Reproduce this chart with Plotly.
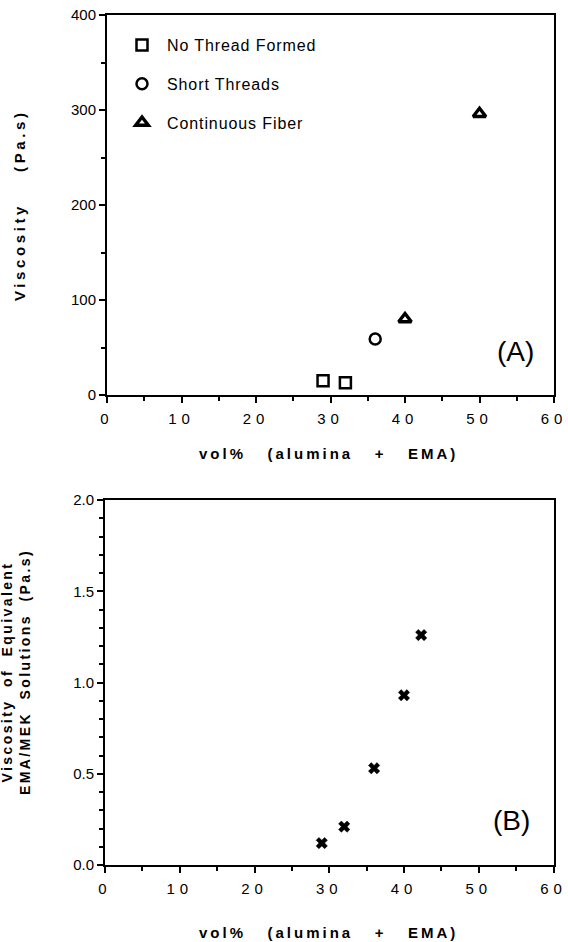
import plotly.graph_objects as go

# ---------------- data ----------------
no_thread_x = [29, 32]
no_thread_y = [15, 13]
short_x = [36]
short_y = [59]
cont_x = [40, 50]
cont_y = [80, 296]

ema_x = [29, 32, 36, 40, 42.3]
ema_y = [0.12, 0.21, 0.53, 0.93, 1.26]

x_ticks = [0, 10, 20, 30, 40, 50, 60]
ya_ticks = [0, 100, 200, 300, 400]
yb_ticks = [0.0, 0.5, 1.0, 1.5, 2.0]

W, H = 568, 942
FONT = "Liberation Sans, Arial, sans-serif"


def ls(text, sp):
    return f'<span style="letter-spacing:{sp}px">{text}</span>'


def px_x(p):
    return p / W


def px_y(p):
    return 1 - p / H


fig = go.Figure()

mk_line = dict(color="black", width=2.5)
fig.add_trace(go.Scatter(x=no_thread_x, y=no_thread_y, mode="markers",
                         name=ls("No Thread Formed", 0.9), legendgroup="a",
                         marker=dict(symbol="square-open", size=11, color="black", line=mk_line),
                         xaxis="x", yaxis="y"))
fig.add_trace(go.Scatter(x=short_x, y=short_y, mode="markers",
                         name=ls("Short Threads", 0.9), legendgroup="b",
                         marker=dict(symbol="circle-open", size=11, color="black", line=mk_line),
                         xaxis="x", yaxis="y"))
fig.add_trace(go.Scatter(x=cont_x, y=cont_y, mode="markers",
                         name=ls("Continuous Fiber", 0.9), legendgroup="c",
                         marker=dict(symbol="triangle-up-open", size=11, color="black",
                                     line=dict(color="black", width=3.4)),
                         xaxis="x", yaxis="y"))
fig.add_trace(go.Scatter(x=ema_x, y=ema_y, mode="markers", showlegend=False,
                         marker=dict(symbol="x", size=10, color="black",
                                     line=dict(color="black", width=0.5)),
                         xaxis="x2", yaxis="y2"))

tickfont = dict(family=FONT, size=15, color="black")


def xaxis(domain, anchor):
    return dict(domain=domain, anchor=anchor, range=[0, 60], automargin=False,
                tickmode="array", tickvals=x_ticks, ticktext=[ls(str(v), 5) for v in x_ticks],
                ticks="outside", ticklen=6, tickwidth=2, tickcolor="black",
                minor=dict(dtick=5, tick0=0, ticks="outside", ticklen=4, tickwidth=2, tickcolor="black"),
                showline=True, linewidth=2, linecolor="#000000", mirror=True,
                showgrid=False, zeroline=False, tickfont=tickfont, ticklabelstandoff=3,
                fixedrange=True)


def yaxis(domain, anchor, rng, vals, texts, mdtick):
    return dict(domain=domain, anchor=anchor, range=rng, automargin=False,
                tickmode="array", tickvals=vals, ticktext=texts,
                ticks="outside", ticklen=6, tickwidth=2, tickcolor="black",
                minor=dict(dtick=mdtick, ticks="outside", ticklen=4, tickwidth=2, tickcolor="black"),
                showline=True, linewidth=2, linecolor="#000000", mirror=True,
                showgrid=False, zeroline=False, tickfont=tickfont,
                fixedrange=True)


fig.update_layout(
    width=W, height=H, autosize=False,
    margin=dict(l=0, r=0, t=0, b=0, pad=0),
    paper_bgcolor="white", plot_bgcolor="white",
    font=dict(family=FONT, color="black"),
    xaxis=xaxis([px_x(107), px_x(554)], "y"),
    yaxis=yaxis([px_y(395), px_y(15)], "x", [0, 400], ya_ticks,
                [str(v) for v in ya_ticks], 50),
    xaxis2=xaxis([px_x(105), px_x(553.5)], "y2"),
    yaxis2=yaxis([px_y(865), px_y(500)], "x2", [0, 2], yb_ticks,
                 [f"{v:.1f}" for v in yb_ticks], 0.1),
    showlegend=True,
    legend=dict(x=px_x(117), y=px_y(28), xanchor="left", yanchor="top",
                bgcolor="rgba(0,0,0,0)", borderwidth=0, itemwidth=40,
                font=dict(family=FONT, size=16, color="black"),
                tracegroupgap=15, itemclick=False, itemdoubleclick=False),
)

bold = dict(family=FONT, size=15, color="black")
sp3 = "\u00a0\u00a0\u00a0"
sp4 = "\u00a0\u00a0\u00a0\u00a0"
sp2 = "\u00a0\u00a0"
annotations = [
    dict(text="<b>" + ls("vol%" + sp3 + "(alumina" + sp3 + "+" + sp3 + "EMA)", 3) + "</b>",
         x=px_x(328), y=px_y(453), xref="paper", yref="paper", showarrow=False,
         xanchor="center", yanchor="middle", font=bold),
    dict(text="<b>" + ls("vol%" + sp3 + "(alumina" + sp3 + "+" + sp3 + "EMA)", 3) + "</b>",
         x=px_x(328), y=px_y(932), xref="paper", yref="paper", showarrow=False,
         xanchor="center", yanchor="middle", font=bold),
    dict(text="<b>" + ls("Viscosity" + sp4 + "(Pa.s)", 3.6) + "</b>",
         x=px_x(19), y=px_y(205), xref="paper", yref="paper", showarrow=False,
         textangle=-90, xanchor="center", yanchor="middle", font=bold),
    dict(text="<b>" + ls("Viscosity" + sp2 + "of" + sp2 + "Equivalent", 2.4) + "<br>"
         + ls("EMA/MEK" + sp2 + "Solutions" + sp2 + "(Pa.s)", 2.4) + "</b>",
         x=px_x(16), y=px_y(672), xref="paper", yref="paper", showarrow=False,
         textangle=-90, xanchor="center", yanchor="middle",
         font=dict(family=FONT, size=14, color="black")),
    dict(text="(A)", x=px_x(515), y=px_y(352), xref="paper", yref="paper", showarrow=False,
         xanchor="center", yanchor="middle", font=dict(family=FONT, size=28, color="black")),
    dict(text="(B)", x=px_x(511), y=px_y(820), xref="paper", yref="paper", showarrow=False,
         xanchor="center", yanchor="middle", font=dict(family=FONT, size=28, color="black")),
]
fig.update_layout(annotations=annotations)

fig.write_html("out.html", config={"displayModeBar": False},
               post_script="document.body.style.margin='0';document.documentElement.style.overflow='hidden';")
